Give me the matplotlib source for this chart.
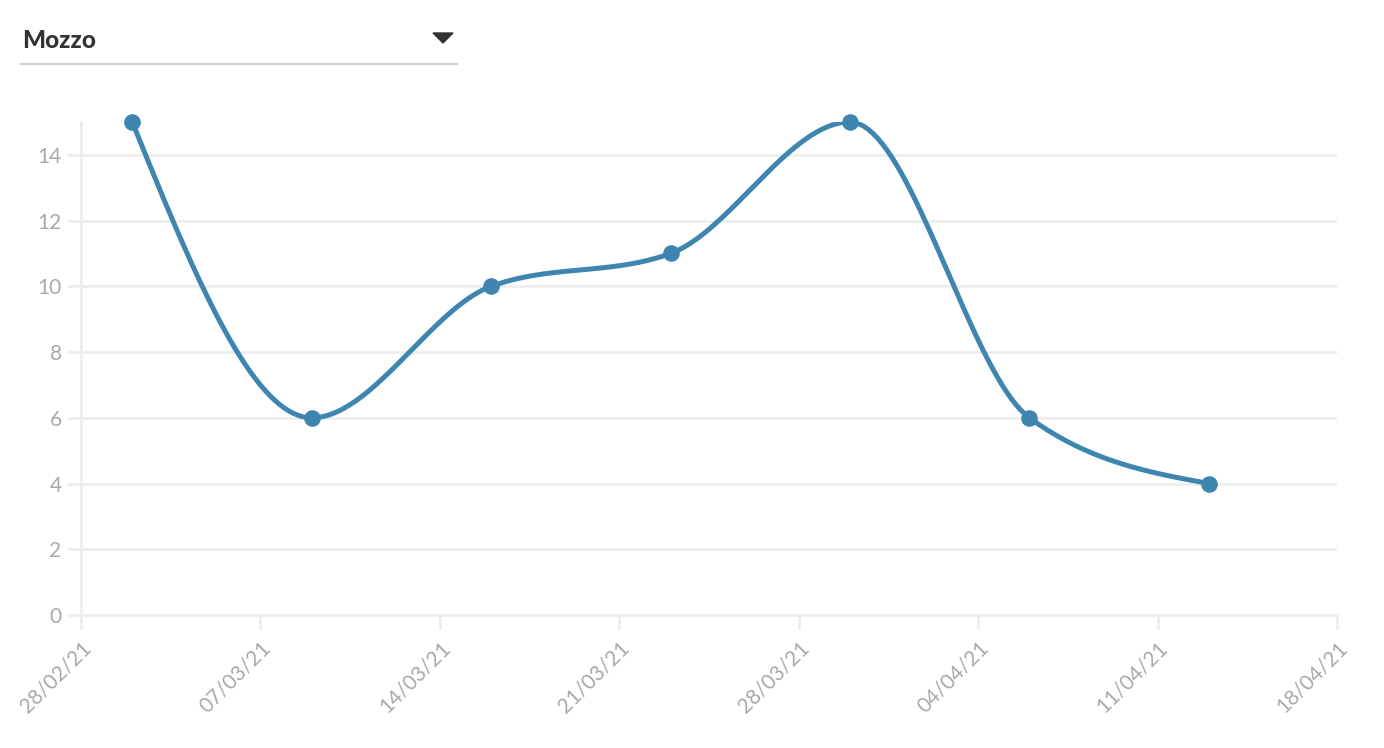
import matplotlib
matplotlib.use("Agg")
import matplotlib.pyplot as plt
import matplotlib.dates as mdates
import numpy as np
from datetime import datetime, timedelta

# data
dates = ["2021-03-02", "2021-03-09", "2021-03-16", "2021-03-23",
         "2021-03-30", "2021-04-06", "2021-04-13"]
values = [15, 6, 10, 11, 15, 6, 4]
tick_dates = ["2021-02-28", "2021-03-07", "2021-03-14", "2021-03-21",
              "2021-03-28", "2021-04-04", "2021-04-11", "2021-04-18"]
title = "Mozzo"

x = mdates.date2num([datetime.strptime(d, "%Y-%m-%d") for d in dates])
y = np.array(values, dtype=float)


# monotone cubic curve (like d3 curveMonotoneX) for drawing the line
def monotone_curve(x, y, n=40):
    x = np.asarray(x, float)
    h = np.diff(x)
    s = np.diff(y) / h
    t = np.zeros(len(x))
    for i in range(1, len(x) - 1):
        p = (s[i - 1] * h[i] + s[i] * h[i - 1]) / (h[i - 1] + h[i])
        t[i] = (np.sign(s[i - 1]) + np.sign(s[i])) * min(abs(s[i - 1]), abs(s[i]), 0.5 * abs(p))
    t[0] = (3 * s[0] - t[1]) / 2
    t[-1] = (3 * s[-1] - t[-2]) / 2
    xs, ys = [], []
    u = np.linspace(0, 1, n)
    for i in range(len(x) - 1):
        dx = h[i] / 3
        P = [(x[i], y[i]), (x[i] + dx, y[i] + dx * t[i]),
             (x[i + 1] - dx, y[i + 1] - dx * t[i + 1]), (x[i + 1], y[i + 1])]
        b = [(1 - u) ** 3, 3 * (1 - u) ** 2 * u, 3 * (1 - u) * u ** 2, u ** 3]
        xs.extend(sum(b[k] * P[k][0] for k in range(4)))
        ys.extend(sum(b[k] * P[k][1] for k in range(4)))
    return np.array(xs), np.array(ys)


plt.rcParams['font.family'] = ['Lato', 'DejaVu Sans']

fig = plt.figure(figsize=(13.84, 7.48), dpi=100)
ax = fig.add_axes([81 / 1384, 1 - 615 / 748, (1337 - 81) / 1384, (615 - 122) / 748])

grid_col = "#eeeeee"
line_col = "#3e86b0"

cx, cy = monotone_curve(x, y)
ax.plot(cx, cy, color=line_col, lw=3.6, solid_capstyle="round", zorder=3)
ax.scatter(x, y, s=120, color=line_col, zorder=4, clip_on=False)

xt = mdates.date2num([datetime.strptime(d, "%Y-%m-%d") for d in tick_dates])
ax.set_xlim(xt[0], xt[-1])
ax.set_ylim(0, 15)
ax.set_yticks(range(0, 15, 2))
ax.set_xticks(xt)
ax.set_xticklabels([datetime.strptime(d, "%Y-%m-%d").strftime("%d/%m/%y") for d in tick_dates])

for lab in ax.get_xticklabels():
    lab.set_rotation(45)
    lab.set_ha("right")
    lab.set_va("top")
    lab.set_rotation_mode("anchor")

ax.grid(axis="y", color=grid_col, lw=2)
ax.set_axisbelow(True)
for side in ["top", "right"]:
    ax.spines[side].set_visible(False)
ax.spines["left"].set_color(grid_col)
ax.spines["left"].set_linewidth(2)
ax.spines["bottom"].set_color(grid_col)
ax.spines["bottom"].set_linewidth(2)
ax.tick_params(axis="both", colors=grid_col, width=2, length=10,
               labelcolor="#a9a9a9", labelsize=15)
ax.tick_params(axis="y", pad=4)
ax.tick_params(axis="x", pad=6)

# dropdown header
fig.text(22 / 1384, 1 - 40 / 748, title, fontsize=17.5, fontweight="black",
         color="#333333", va="center", ha="left")
fig.patches.append(plt.Polygon([[433 / 1384, 1 - 33 / 748], [453 / 1384, 1 - 33 / 748],
                                [443 / 1384, 1 - 43 / 748]], closed=True,
                               transform=fig.transFigure, color="#333333"))
fig.add_artist(plt.Line2D([21 / 1384, 457 / 1384], [1 - 64 / 748, 1 - 64 / 748],
                          color="#cccccc", lw=1.5, transform=fig.transFigure))

fig.savefig("out.png", dpi=100)
